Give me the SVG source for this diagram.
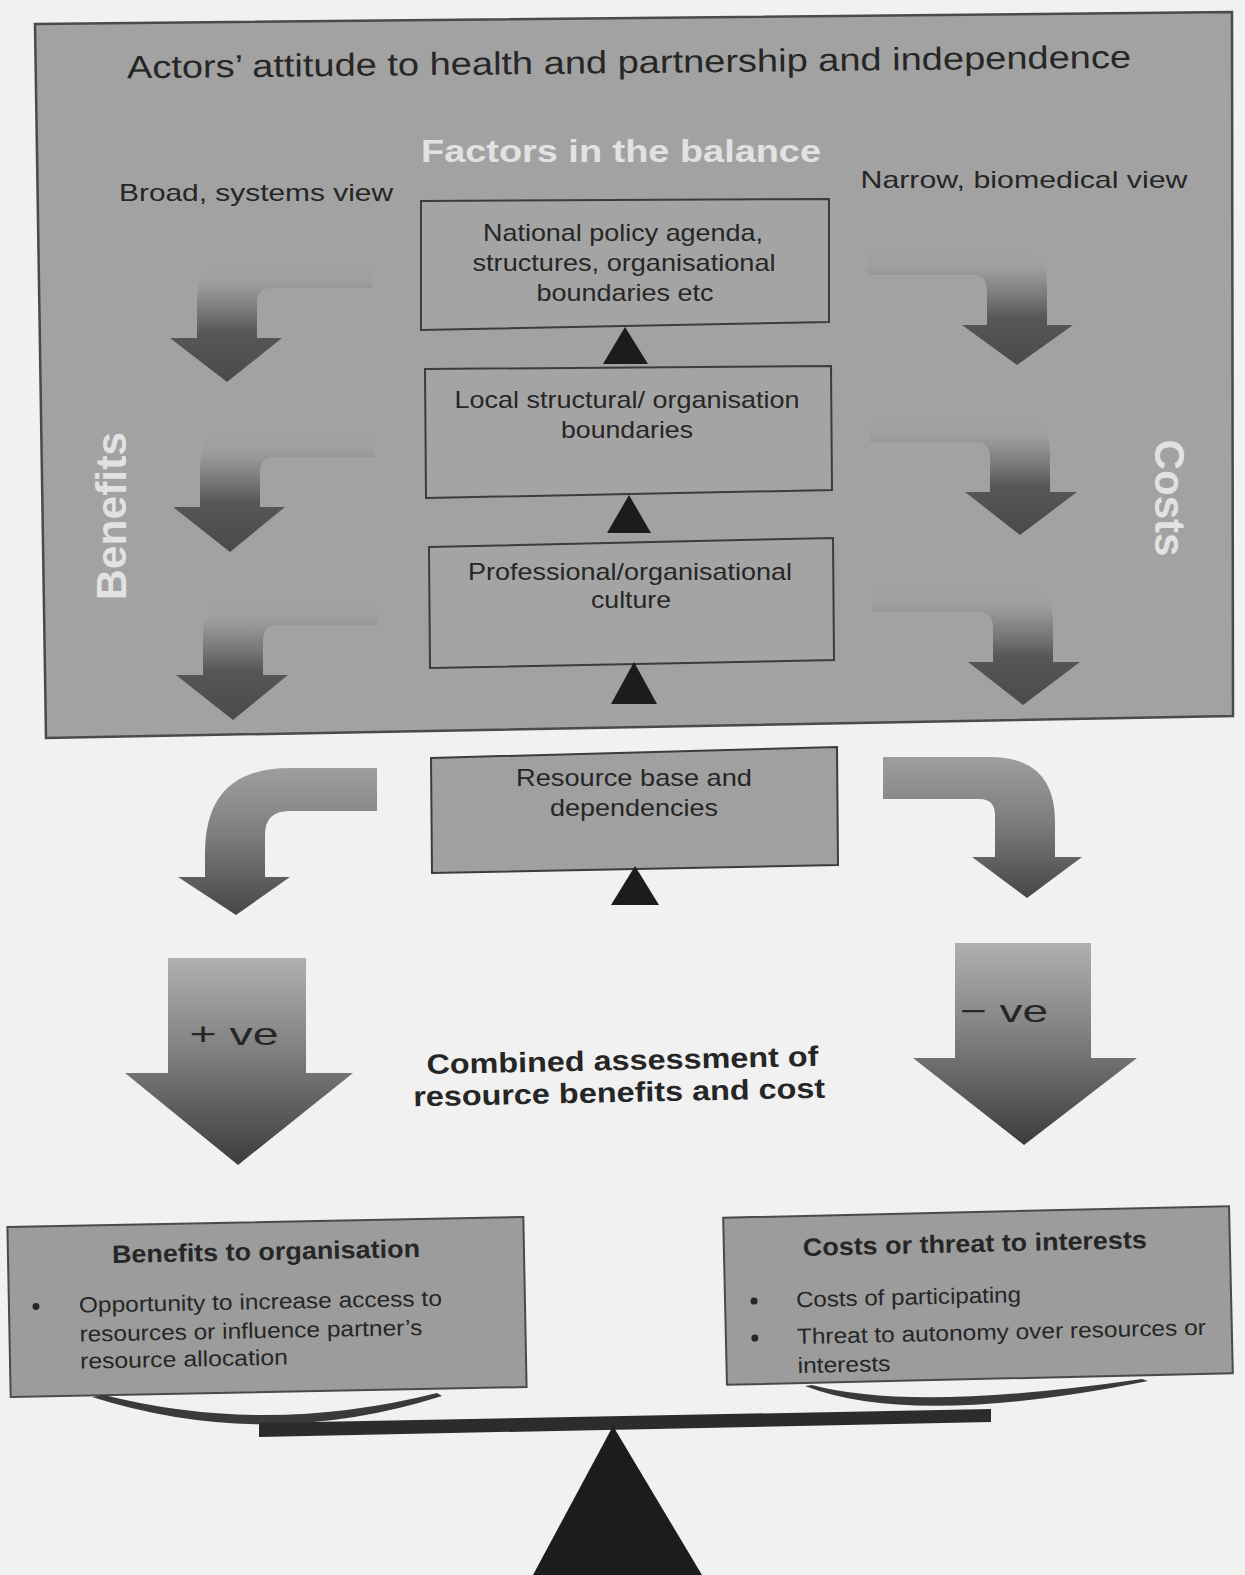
<svg xmlns="http://www.w3.org/2000/svg" width="1245" height="1575" viewBox="0 0 1245 1575">
<defs>
<style>
.t{font-family:"Liberation Sans",Arial,sans-serif;fill:#262626;}
.b{font-weight:bold;}
.box{fill:#a4a4a4;stroke:#3c3c3c;stroke-width:2;}
.lbox{fill:#9c9c9c;stroke:#4a4a4a;stroke-width:2;}
.tri{fill:#1c1c1c;}
.white{fill:#e2e2e2;font-weight:bold;}
</style>
<linearGradient id="fade" x1="0" y1="0" x2="0" y2="1">
<stop offset="0" stop-color="#909090" stop-opacity="0"/>
<stop offset="0.18" stop-color="#858585" stop-opacity="0.12"/>
<stop offset="0.34" stop-color="#707070" stop-opacity="0.55"/>
<stop offset="0.6" stop-color="#575757" stop-opacity="1"/>
<stop offset="1" stop-color="#4a4a4a" stop-opacity="1"/>
</linearGradient>
<linearGradient id="bent" x1="0" y1="0" x2="0" y2="1">
<stop offset="0" stop-color="#9e9e9e"/>
<stop offset="0.45" stop-color="#7e7e7e"/>
<stop offset="1" stop-color="#464646"/>
</linearGradient>
<linearGradient id="big" x1="0" y1="0" x2="0" y2="1">
<stop offset="0" stop-color="#b0b0b0"/>
<stop offset="0.45" stop-color="#808080"/>
<stop offset="1" stop-color="#3c3c3c"/>
</linearGradient>
</defs>

<rect x="0" y="0" width="1245" height="1575" fill="#f1f1f1"/>

<g id="frame">
<polygon points="35,24 1232,12 1233,716 46,738" fill="#a2a2a2" stroke="#4a4a4a" stroke-width="2.5"/>
<text class="t" x="629" y="73" font-size="32" text-anchor="middle" textLength="1004" lengthAdjust="spacingAndGlyphs" transform="rotate(-0.6 629 68)">Actors’ attitude to health and partnership and independence</text>
<text class="t white" x="621" y="162" font-size="32" text-anchor="middle" textLength="400" lengthAdjust="spacingAndGlyphs">Factors in the balance</text>
<text class="t" x="256" y="201" font-size="24" text-anchor="middle" textLength="274" lengthAdjust="spacingAndGlyphs">Broad, systems view</text>
<text class="t" x="1024" y="188" font-size="24" text-anchor="middle" textLength="327" lengthAdjust="spacingAndGlyphs">Narrow, biomedical view</text>
<text class="t white" x="0" y="0" font-size="42" text-anchor="middle" textLength="168" lengthAdjust="spacingAndGlyphs" transform="translate(126 516) rotate(-90)">Benefits</text>
<text class="t white" x="0" y="0" font-size="42" text-anchor="middle" textLength="117" lengthAdjust="spacingAndGlyphs" transform="translate(1155 498) rotate(90)">Costs</text>
</g>

<g id="node-national">
<polygon class="box" points="421,201 829,199 829,322 421,330"/>
<text class="t" x="623" y="241" font-size="24" text-anchor="middle" textLength="280" lengthAdjust="spacingAndGlyphs">National policy agenda,</text>
<text class="t" x="624" y="271" font-size="24" text-anchor="middle" textLength="303" lengthAdjust="spacingAndGlyphs">structures, organisational</text>
<text class="t" x="625" y="301" font-size="24" text-anchor="middle" textLength="177" lengthAdjust="spacingAndGlyphs">boundaries etc</text>
</g>

<g id="node-local">
<polygon class="box" points="425,369 831,366 832,490 426,498"/>
<text class="t" x="627" y="408" font-size="24" text-anchor="middle" textLength="345" lengthAdjust="spacingAndGlyphs">Local structural/ organisation</text>
<text class="t" x="627" y="438" font-size="24" text-anchor="middle" textLength="132" lengthAdjust="spacingAndGlyphs">boundaries</text>
</g>

<g id="node-professional">
<polygon class="box" points="429,547 833,538 834,660 430,668"/>
<text class="t" x="630" y="580" font-size="24" text-anchor="middle" textLength="324" lengthAdjust="spacingAndGlyphs">Professional/organisational</text>
<text class="t" x="631" y="608" font-size="24" text-anchor="middle" textLength="80" lengthAdjust="spacingAndGlyphs">culture</text>
</g>

<g id="node-resource">
<polygon class="box" points="431,758 837,747 838,865 432,873" style="fill:#a0a0a0"/>
<text class="t" x="634" y="786" font-size="24" text-anchor="middle" textLength="236" lengthAdjust="spacingAndGlyphs">Resource base and</text>
<text class="t" x="634" y="816" font-size="24" text-anchor="middle" textLength="168" lengthAdjust="spacingAndGlyphs">dependencies</text>
</g>

<g id="connectors">
<polygon class="tri" points="625,327 603,364 648,364"/>
<polygon class="tri" points="629,495 607,533 651,533"/>
<polygon class="tri" points="634,662 611,704 657,704"/>
<polygon class="tri" points="635,866 611,905 659,905"/>

<path fill="url(#fade)" d="M197,338 L197,298 Q197,258 237,258 L372,258 L372,288 L272,288 Q257,288 257,303 L257,338 L282,338 L227,382 L170,338 Z"/>
<path fill="url(#fade)" d="M200,507 L200,467 Q200,427 240,427 L375,427 L375,457 L275,457 Q260,457 260,472 L260,507 L285,507 L230,552 L173,507 Z"/>
<path fill="url(#fade)" d="M203,675 L203,635 Q203,595 243,595 L378,595 L378,625 L278,625 Q263,625 263,640 L263,675 L288,675 L233,720 L176,675 Z"/>

<path fill="url(#fade)" d="M1047,325 L1047,285 Q1047,245 1007,245 L867,245 L867,275 L972,275 Q987,275 987,290 L987,325 L962,325 L1017,365 L1073,325 Z"/>
<path fill="url(#fade)" d="M1050,492 L1050,452 Q1050,412 1010,412 L870,412 L870,442 L975,442 Q990,442 990,457 L990,492 L965,492 L1020,535 L1077,492 Z"/>
<path fill="url(#fade)" d="M1053,662 L1053,622 Q1053,582 1013,582 L873,582 L873,612 L978,612 Q993,612 993,627 L993,662 L968,662 L1023,705 L1080,662 Z"/>

<path fill="url(#bent)" d="M377,768 L290,768 Q205,768 205,853 L205,877 L178,877 L236,915 L290,877 L265,877 L265,835 Q265,811 289,811 L377,811 Z"/>
<path fill="url(#bent)" d="M883,757 L990,757 Q1055,757 1055,822 L1055,857 L1082,857 L1027,898 L972,857 L995,857 L995,815 Q995,799 979,799 L883,799 Z"/>

<path fill="url(#big)" d="M168,958 L306,958 L306,1073 L353,1073 L238,1165 L125,1073 L168,1073 Z"/>
<path fill="url(#big)" d="M955,943 L1091,943 L1091,1058 L1137,1058 L1024,1145 L913,1058 L955,1058 Z"/>
<text class="t" x="234" y="1045" font-size="32" text-anchor="middle" textLength="89" lengthAdjust="spacingAndGlyphs">+ ve</text>
<text class="t" x="1004" y="1022" font-size="32" text-anchor="middle" textLength="88" lengthAdjust="spacingAndGlyphs">− ve</text>
</g>

<g id="label-combined" transform="rotate(-1.2 621 1086)">
<text class="t b" x="623" y="1070" font-size="28" text-anchor="middle" textLength="392" lengthAdjust="spacingAndGlyphs">Combined assessment of</text>
<text class="t b" x="619" y="1102" font-size="28" text-anchor="middle" textLength="412" lengthAdjust="spacingAndGlyphs">resource benefits and cost</text>
</g>

<g id="node-benefits" transform="rotate(-1.1 267 1307)">
<rect class="lbox" x="9" y="1222" width="516" height="170"/>
<text class="t b" x="267" y="1260" font-size="25" text-anchor="middle" textLength="308" lengthAdjust="spacingAndGlyphs">Benefits to organisation</text>
<circle cx="36" cy="1302" r="3.5" fill="#262626"/>
<text class="t" x="79" y="1309" font-size="22" textLength="363" lengthAdjust="spacingAndGlyphs">Opportunity to increase access to</text>
<text class="t" x="79" y="1338" font-size="22" textLength="343" lengthAdjust="spacingAndGlyphs">resources or influence partner’s</text>
<text class="t" x="79" y="1365" font-size="22" textLength="208" lengthAdjust="spacingAndGlyphs">resource allocation</text>
</g>

<g id="node-costs" transform="rotate(-1.3 978 1296)">
<rect class="lbox" x="725" y="1212" width="506" height="167"/>
<text class="t b" x="976" y="1252" font-size="25" text-anchor="middle" textLength="344" lengthAdjust="spacingAndGlyphs">Costs or threat to interests</text>
<circle cx="754" cy="1296" r="3.5" fill="#262626"/>
<text class="t" x="796" y="1303" font-size="22" textLength="225" lengthAdjust="spacingAndGlyphs">Costs of participating</text>
<circle cx="754" cy="1333" r="3.5" fill="#262626"/>
<text class="t" x="796" y="1340" font-size="22" textLength="409" lengthAdjust="spacingAndGlyphs">Threat to autonomy over resources or</text>
<text class="t" x="796" y="1369" font-size="22" textLength="93" lengthAdjust="spacingAndGlyphs">interests</text>
</g>

<g id="balance">
<path fill="#3a3a3a" d="M92,1397 L104,1395 Q266,1436 437,1393 L442,1396 Q266,1452 92,1397 Z"/>
<path fill="#3a3a3a" d="M805,1386 L812,1385 Q913,1412 1142,1379 L1148,1381 Q913,1428 805,1386 Z"/>
<polygon fill="#2c2c2c" points="259,1423 991,1409 991,1422 259,1437"/>
<polygon fill="#1c1c1c" points="613,1426 533,1575 702,1575"/>
</g>
</svg>
